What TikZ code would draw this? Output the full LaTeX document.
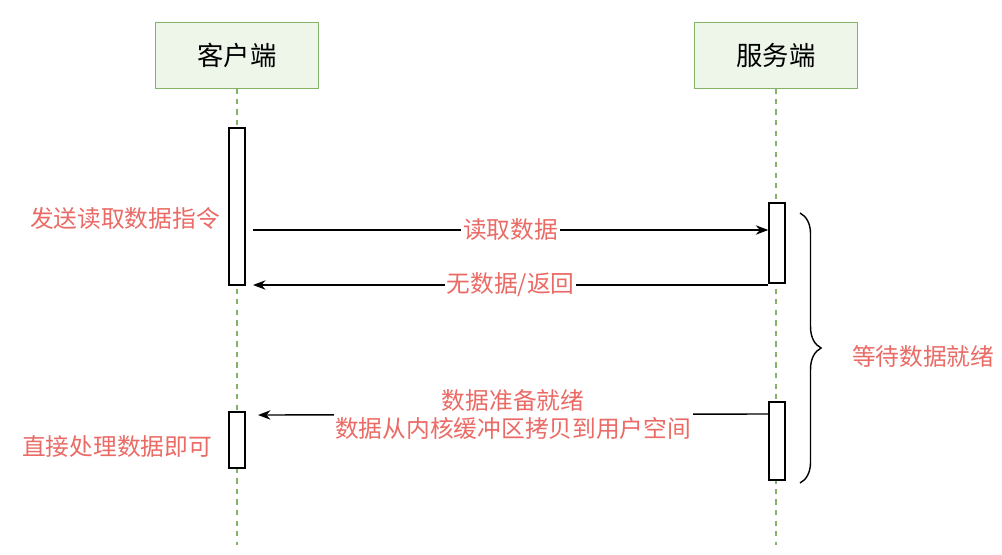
\documentclass[tikz,border=0pt]{standalone}
\usepackage{fontspec}
\setmainfont{Noto Sans CJK SC}
\usetikzlibrary{arrows.meta,patterns,decorations.pathreplacing}
\definecolor{lifegreen}{HTML}{82B366}
\definecolor{boxfill}{HTML}{EEF6EA}
\definecolor{msgred}{HTML}{EA6B66}
\begin{document}
\begin{tikzpicture}[x=0.02cm,y=-0.02cm]
\tikzset{actor/.style = {draw=lifegreen,fill=boxfill,minimum width=3.26cm,minimum height=1.32cm,font=\fontsize{15}{18}\selectfont}}
\tikzset{act/.style = {draw,fill=white,thick,minimum width=0.32cm,inner sep=0pt}}
\tikzset{life/.style = {lifegreen,dashed,thick}}
\tikzset{msg/.style = {thick,-{Stealth[length=2.5mm]}}}
\tikzset{lbl/.style = {text=msgred,font=\fontsize{13.5}{16}\selectfont,fill=white,inner sep=1pt,align=center}}
\useasboundingbox (0,0) rectangle (1002,555);
% actors
\node[actor] (client) at (237,55) {客户端};
\node[actor] (server) at (776,55) {服务端};
\coordinate (cend) at (237,545);
\coordinate (send) at (776,545);
\draw[life] (client) -- (cend);
\draw[life] (server) -- (send);
% activations
\node[act,minimum height=3.14cm] (ca1) at (237,206.5) {};
\node[act,minimum height=1.12cm] (ca2) at (237,440) {};
\node[act,minimum height=1.6cm] (sa1) at (777,243) {};
\node[act,minimum height=1.56cm] (sa2) at (777,441) {};
% messages
\draw[msg] (253,230) -- node[lbl] {读取数据} (sa1.west |- 0,230);
\draw[msg] (sa1.west |- 0,285) -- node[lbl] {无数据/返回} (253,285);
\draw[msg] (sa2.west |- 0,414) -- node[lbl] {数据准备就绪\\数据从内核缓冲区拷贝到用户空间} (258,415);
% brace
\coordinate (btop) at (800,213);
\coordinate (bbot) at (800,483);
\draw[thick,decorate,decoration={brace,amplitude=12pt}] (btop) -- (bbot);
\node[lbl,anchor=west] (wait) at (850,356) {等待数据就绪};
% side notes
\node[lbl] (send1) at (125,218) {发送读取数据指令};
\node[lbl] (done) at (117,447) {直接处理数据即可};
\end{tikzpicture}
\end{document}
